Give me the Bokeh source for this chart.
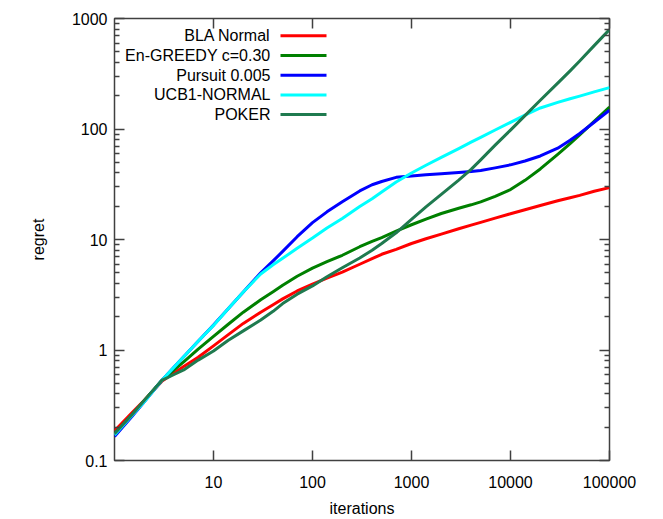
from bokeh.plotting import figure
from bokeh.models import (Range1d, FixedTicker, LogAxis, Label, BoxAnnotation,
                          CustomJSTickFormatter)
from bokeh.embed import file_html
from bokeh.resources import INLINE

# ---------------- data ----------------
iterations = [1, 1.5, 2, 3, 4, 5, 7, 10, 14, 20, 30, 40, 50, 70, 100, 140,
              200, 300, 400, 500, 700, 1000, 1400, 2000, 3000, 4000, 5000,
              7000, 10000, 14000, 20000, 30000, 40000, 50000, 70000, 100000]

bla_normal = [0.185, 0.27, 0.35, 0.52, 0.62, 0.71, 0.86, 1.09, 1.37, 1.74,
              2.2, 2.57, 2.9, 3.42, 3.95, 4.48, 5.07, 5.97, 6.7, 7.35, 8.15,
              9.2, 10.15, 11.2, 12.5, 13.5, 14.3, 15.6, 17.1, 18.6, 20.3,
              22.4, 23.9, 25.1, 27.3, 29.5]

en_greedy = [0.175, 0.26, 0.35, 0.53, 0.66, 0.78, 1.02, 1.33, 1.70, 2.2,
             2.85, 3.37, 3.85, 4.65, 5.5, 6.3, 7.2, 8.6, 9.6, 10.4, 11.9,
             13.6, 15.3, 17.2, 19.2, 20.6, 21.9, 24.6, 28.3, 34.3, 43.5, 59,
             73.9, 88.6, 117, 158]

pursuit = [0.165, 0.25, 0.34, 0.53, 0.7, 0.87, 1.2, 1.68, 2.35, 3.35, 5.0,
           6.4, 7.8, 10.6, 14.2, 17.8, 22.0, 27.5, 31.3, 33.5, 36.5, 37.6,
           38.5, 39.3, 40.3, 41.2, 42.2, 44.5, 47.4, 51.3, 57, 67, 79, 91,
           115, 148]

ucb1_normal = [0.17, 0.255, 0.34, 0.53, 0.7, 0.87, 1.2, 1.67, 2.35, 3.35,
               4.87, 5.9, 6.75, 8.35, 10.3, 12.7, 15.5, 19.9, 23.4, 26.9,
               33.1, 40, 47.0, 55.4, 66.5, 76, 84, 98, 115, 133.7, 155, 174,
               188, 198.5, 217, 237]

poker = [0.175, 0.26, 0.35, 0.53, 0.6, 0.66, 0.81, 0.98, 1.22, 1.49, 1.87,
         2.24, 2.63, 3.2, 3.8, 4.6, 5.55, 6.8, 8.0, 9.2, 11.5, 15.2, 19.7,
         25.6, 34.5, 43.1, 52.6, 71.5, 97.8, 132, 182, 260, 336, 412, 568,
         795]

series_names = ["BLA Normal", "En-GREEDY c=0.30", "Pursuit 0.005",
                "UCB1-NORMAL", "POKER"]
series_values = [bla_normal, en_greedy, pursuit, ucb1_normal, poker]
series_colors = ["#ff0000", "#008000", "#0000ff", "#00ffff", "#1f7a4f"]

x_ticks = [10, 100, 1000, 10000, 100000]
y_ticks = [0.1, 1, 10, 100, 1000]
y_minor = [m * 10.0 ** k for k in range(-1, 3) for m in range(2, 10)]

FONT = "Liberation Sans"
AX = "#404040"

# ---------------- figure ----------------
p = figure(width=663, height=519, x_axis_type="log", y_axis_type="log",
           x_range=Range1d(1, 100000), y_range=Range1d(0.1, 1000),
           output_backend="svg", toolbar_location=None,
           min_border_left=114, min_border_right=54,
           min_border_top=18, min_border_bottom=57)
p.background_fill_color = "white"
p.border_fill_color = "white"
p.grid.visible = False
p.outline_line_color = AX
p.outline_line_width = 1.5
p.outline_line_alpha = 1.0

fmt = CustomJSTickFormatter(code="return tick.toString();")

p.xaxis.ticker = FixedTicker(ticks=x_ticks, minor_ticks=[])
p.yaxis.ticker = FixedTicker(ticks=y_ticks, minor_ticks=y_minor)
p.xaxis.formatter = fmt
p.yaxis.formatter = fmt

for ax in (p.xaxis[0], p.yaxis[0]):
    ax.axis_line_color = None
    ax.major_tick_in = 10
    ax.major_tick_out = 0
    ax.minor_tick_in = 5
    ax.minor_tick_out = 0
    ax.major_tick_line_color = AX
    ax.minor_tick_line_color = AX
    ax.major_tick_line_width = 1.5
    ax.minor_tick_line_width = 1.5
    ax.major_label_text_font = FONT
    ax.major_label_text_font_size = "16px"
    ax.major_label_text_color = "black"
    ax.axis_label_text_font = FONT
    ax.axis_label_text_font_size = "16px"
    ax.axis_label_text_font_style = "normal"
    ax.axis_label_text_color = "black"

p.xaxis.axis_label = "iterations"
p.xaxis.major_label_standoff = 15
p.xaxis.axis_label_standoff = 9
p.yaxis.axis_label = "regret"
p.yaxis.major_label_standoff = 7
p.yaxis.axis_label_standoff = 22

# mirrored axes (ticks only)
top = LogAxis(ticker=FixedTicker(ticks=x_ticks, minor_ticks=[]))
right = LogAxis(ticker=FixedTicker(ticks=y_ticks, minor_ticks=y_minor))
for ax in (top, right):
    ax.axis_line_color = None
    ax.major_tick_in = 10
    ax.major_tick_out = 0
    ax.minor_tick_in = 5
    ax.minor_tick_out = 0
    ax.major_tick_line_color = AX
    ax.minor_tick_line_color = AX
    ax.major_tick_line_width = 1.5
    ax.minor_tick_line_width = 1.5
    ax.major_label_text_font_size = "0px"
    ax.major_label_text_color = None
    ax.major_label_standoff = 0
p.add_layout(top, "above")
p.add_layout(right, "right")

# ---------------- curves ----------------
for vals, col in zip(series_values, series_colors):
    p.line(iterations, vals, line_color=col, line_width=3, line_join="round")

# ---------------- legend (gnuplot style: text left, sample right) ----------------
text_right = 156
sample_left, sample_right = 166, 212
row_top = 424.7
row_step = 19.7
for i, (name, col) in enumerate(zip(series_names, series_colors)):
    yy = row_top - i * row_step
    p.add_layout(Label(x=text_right, y=yy, x_units="screen", y_units="screen",
                       text=name, text_align="right", text_baseline="middle",
                       text_font=FONT, text_font_size="16px",
                       text_color="black"))
    p.add_layout(BoxAnnotation(left=sample_left, right=sample_right,
                               bottom=yy - 1.5, top=yy + 1.5,
                               left_units="screen", right_units="screen",
                               bottom_units="screen", top_units="screen",
                               fill_color=col, fill_alpha=1.0,
                               line_color=None))

open("out.html", "w").write(file_html(p, INLINE))
